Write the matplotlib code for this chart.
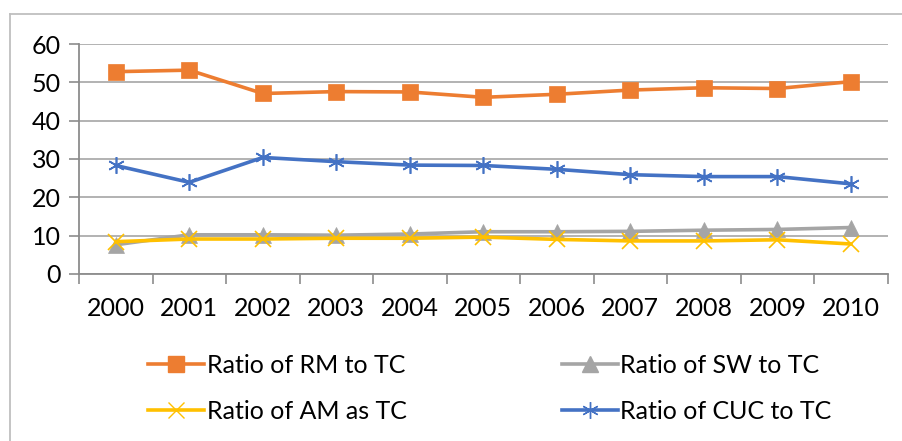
import matplotlib.pyplot as plt
from matplotlib.lines import Line2D

# ======= Data =====================================================
years = ["2000", "2001", "2002", "2003", "2004", "2005", "2006", "2007", "2008", "2009", "2010"]
ratio_rm = [52.8, 53.2, 47.1, 47.6, 47.5, 46.1, 46.9, 48.0, 48.6, 48.4, 50.2]
ratio_sw = [7.6, 10.2, 10.2, 10.1, 10.4, 11.0, 11.0, 11.1, 11.4, 11.6, 12.1]
ratio_am = [8.4, 9.1, 9.1, 9.3, 9.3, 9.6, 9.0, 8.6, 8.6, 8.9, 7.8]
ratio_cuc = [28.3, 23.9, 30.4, 29.3, 28.4, 28.3, 27.3, 25.9, 25.4, 25.4, 23.5]

labels = ["Ratio of RM to TC", "Ratio of SW to TC", "Ratio of AM as TC", "Ratio of CUC to TC"]
colors = ["#ED7D31", "#A5A5A5", "#FFC000", "#4472C4"]
markers = ["s", "^", "x", (6, 2, 0)]
marker_sizes = [11, 11, 11, 12]

FONT_SIZE = 18

# ==================================================================


def main() -> None:
    plt.rcParams["font.family"] = ["Lato", "DejaVu Sans"]
    fig = plt.figure(figsize=(9.03, 4.41), dpi=100)
    ax = fig.add_axes([0.0875, 0.379, 0.8955, 0.521])

    x = list(range(len(years)))
    series = [ratio_rm, ratio_sw, ratio_am, ratio_cuc]
    handles = []
    for vals, lab, col, mk, ms in zip(series, labels, colors, markers, marker_sizes):
        z = 3 if lab.endswith("AM as TC") else 2
        ax.plot(x, vals, color=col, lw=2.6, marker=mk, markersize=ms,
                markeredgewidth=1.2 if mk in ("x", (6, 2, 0)) else 0.5,
                markeredgecolor=col, zorder=z)
        handles.append(Line2D([], [], color=col, lw=2.6, marker=mk,
                              markersize=ms, markeredgewidth=1.0, markeredgecolor=col))

    ax.set_xlim(-0.5, len(years) - 0.5)
    ax.set_ylim(0, 60)
    ax.set_yticks(range(0, 61, 10))
    ax.set_xticks(x)
    ax.set_xticklabels(years)
    ax.set_xticks([i - 0.5 for i in range(len(years) + 1)], minor=True)

    ax.grid(axis="y", color="#A6A6A6", lw=1.2, zorder=0)
    ax.set_axisbelow(True)
    for side in ["top", "right"]:
        ax.spines[side].set_visible(False)
    for side in ["left", "bottom"]:
        ax.spines[side].set_color("#8C8C8C")
        ax.spines[side].set_linewidth(1.3)

    ax.tick_params(axis="x", which="major", length=0, pad=17, labelsize=FONT_SIZE)
    ax.tick_params(axis="x", which="minor", length=7, color="#8C8C8C", width=1.2)
    ax.tick_params(axis="y", length=7, color="#8C8C8C", width=1.2, labelsize=FONT_SIZE, pad=6)

    # 凡例 (2列)
    order = [0, 2, 1, 3]
    fig.legend([handles[i] for i in order], [labels[i] for i in order],
               ncol=2, loc="upper left", bbox_to_anchor=(0.164, 0.197),
               frameon=False, fontsize=FONT_SIZE, handlelength=2.25, handletextpad=0.1,
               columnspacing=6.2, labelspacing=0.91, borderaxespad=0, borderpad=0)

    # 外枠
    fig.add_artist(Line2D([10 / 903, 1.0], [1 - 14 / 441, 1 - 14 / 441],
                          transform=fig.transFigure, color="#BFBFBF", lw=1.3))
    fig.add_artist(Line2D([10 / 903, 10 / 903], [0, 1 - 14 / 441],
                          transform=fig.transFigure, color="#BFBFBF", lw=1.3))

    fig.savefig("out.png", dpi=100)
    plt.close(fig)


if __name__ == "__main__":
    main()
